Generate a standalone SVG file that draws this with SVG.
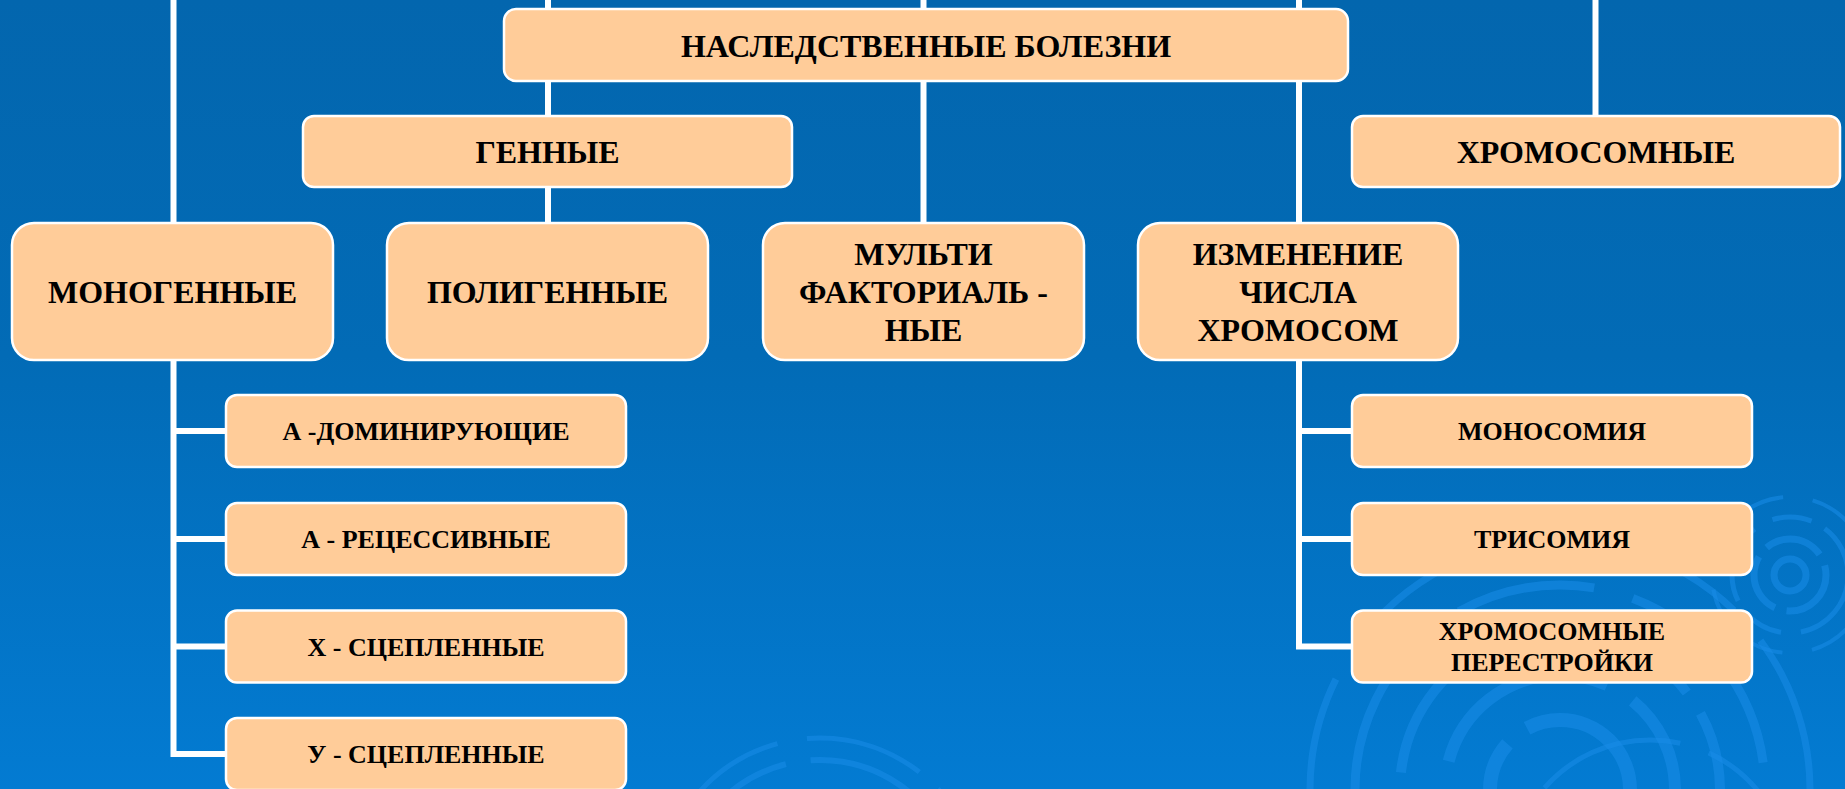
<svg xmlns="http://www.w3.org/2000/svg" width="1845" height="789" viewBox="0 0 1845 789">
<defs>
<linearGradient id="bg" x1="0" y1="0" x2="0" y2="1">
<stop offset="0" stop-color="#0366AE"/>
<stop offset="0.45" stop-color="#026BB6"/>
<stop offset="1" stop-color="#037BD2"/>
</linearGradient>
<style>
.box{fill:#FFCC99;stroke:#FFFFFF;stroke-width:2.5}
.t{font-family:"Liberation Serif","Times New Roman",serif;font-weight:bold;fill:#000;text-anchor:middle}
.big{font-size:32px}
.sm{font-size:26px}
.ln{fill:none;stroke:#FFFFFF;stroke-width:6;stroke-linejoin:miter;stroke-linecap:butt}
.ring{fill:none;stroke:#1A8CE8;stroke-opacity:0.55}
</style>
</defs>
<rect x="0" y="0" width="1845" height="789" fill="url(#bg)"/>
<g id="decor">
<circle class="ring" cx="1560" cy="790" r="70" stroke-width="14" stroke-dasharray="160 20 90 25"/>
<circle class="ring" cx="1560" cy="790" r="115" stroke-width="12" stroke-dasharray="200 30 120 40"/>
<circle class="ring" cx="1560" cy="790" r="160" stroke-width="10" stroke-dasharray="90 25 180 30 60 20"/>
<circle class="ring" cx="1560" cy="790" r="205" stroke-width="9" stroke-dasharray="140 40 220 30"/>
<circle class="ring" cx="1560" cy="790" r="250" stroke-width="7" stroke-dasharray="260 50 120 40"/>
<circle class="ring" cx="1790" cy="575" r="16" stroke-width="7"/>
<circle class="ring" cx="1790" cy="575" r="36" stroke-width="7" stroke-dasharray="60 12"/>
<circle class="ring" cx="1790" cy="575" r="58" stroke-width="5" stroke-dasharray="80 20 40 15"/>
<circle class="ring" cx="1790" cy="575" r="78" stroke-width="4" stroke-dasharray="100 30"/>
<circle class="ring" cx="820" cy="900" r="140" stroke-width="6" stroke-dasharray="180 30 90 25"/>
<circle class="ring" cx="820" cy="900" r="162" stroke-width="5" stroke-dasharray="120 25 200 30"/>
<circle class="ring" cx="1650" cy="880" r="140" stroke-width="5" stroke-dasharray="150 30"/>
</g>
<g id="connectors">
<path class="ln" d="M173.5 0 V754 M170.5 754 H226 M173.5 431 H226 M173.5 539 H226 M173.5 646.5 H226"/>
<path class="ln" d="M548 0 V223"/>
<path class="ln" d="M923.5 0 V223"/>
<path class="ln" d="M1299 0 V646.5 M1296 646.5 H1352 M1299 431 H1352 M1299 539 H1352"/>
<path class="ln" d="M1595.5 0 V116"/>
</g>
<g id="n-root"><rect class="box" x="504" y="9" width="844" height="72" rx="12"/><text class="t big" x="926" y="57">НАСЛЕДСТВЕННЫЕ БОЛЕЗНИ</text></g>
<g id="n-gen"><rect class="box" x="303" y="116" width="489" height="71" rx="11"/><text class="t big" x="547.5" y="163">ГЕННЫЕ</text></g>
<g id="n-chrom"><rect class="box" x="1352" y="116" width="488" height="71" rx="11"/><text class="t big" x="1596" y="163">ХРОМОСОМНЫЕ</text></g>
<g id="n-mono"><rect class="box" x="12" y="223" width="321" height="137" rx="22"/><text class="t big" x="172.5" y="303">МОНОГЕННЫЕ</text></g>
<g id="n-poly"><rect class="box" x="387" y="223" width="321" height="137" rx="22"/><text class="t big" x="547.5" y="303">ПОЛИГЕННЫЕ</text></g>
<g id="n-multi"><rect class="box" x="763" y="223" width="321" height="137" rx="22"/><text class="t big" x="923.5" y="265">МУЛЬТИ</text><text class="t big" x="923.5" y="303">ФАКТОРИАЛЬ -</text><text class="t big" x="923.5" y="341">НЫЕ</text></g>
<g id="n-change"><rect class="box" x="1138" y="223" width="320" height="137" rx="22"/><text class="t big" x="1298" y="265">ИЗМЕНЕНИЕ</text><text class="t big" x="1298" y="303">ЧИСЛА</text><text class="t big" x="1298" y="341">ХРОМОСОМ</text></g>
<g id="n-adom"><rect class="box" x="226" y="395" width="400" height="72" rx="11"/><text class="t sm" x="426" y="440">А -ДОМИНИРУЮЩИЕ</text></g>
<g id="n-arec"><rect class="box" x="226" y="503" width="400" height="72" rx="11"/><text class="t sm" x="426" y="548">А - РЕЦЕССИВНЫЕ</text></g>
<g id="n-x"><rect class="box" x="226" y="610.5" width="400" height="72" rx="11"/><text class="t sm" x="426" y="656">Х - СЦЕПЛЕННЫЕ</text></g>
<g id="n-y"><rect class="box" x="226" y="718" width="400" height="72" rx="11"/><text class="t sm" x="426" y="763">У - СЦЕПЛЕННЫЕ</text></g>
<g id="n-monosom"><rect class="box" x="1352" y="395" width="400" height="72" rx="11"/><text class="t sm" x="1552" y="440">МОНОСОМИЯ</text></g>
<g id="n-trisom"><rect class="box" x="1352" y="503" width="400" height="72" rx="11"/><text class="t sm" x="1552" y="548">ТРИСОМИЯ</text></g>
<g id="n-rearr"><rect class="box" x="1352" y="610.5" width="400" height="72" rx="11"/><text class="t sm" x="1552" y="640">ХРОМОСОМНЫЕ</text><text class="t sm" x="1552" y="671">ПЕРЕСТРОЙКИ</text></g>
</svg>
